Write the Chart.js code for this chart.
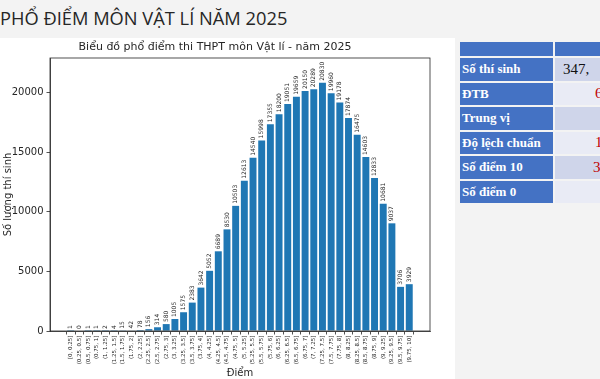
<!DOCTYPE html>
<html>
<head>
<meta charset="utf-8">
<script src="https://cdn.jsdelivr.net/npm/chart.js@4/dist/chart.umd.min.js"></script>
<style>
html,body{margin:0;padding:0;width:600px;height:379px;overflow:hidden;background:#f3f3f3;}
#slideTitle{position:absolute;left:0;top:5px;font-family:"Open Sans",sans-serif;font-size:18.3px;color:#262626;white-space:nowrap;}
#chartBox{position:absolute;left:0;top:38px;width:455px;height:341px;background:#ffffff;}
#stats{position:absolute;left:458px;top:40px;width:219px;border-collapse:separate;border-spacing:2px;font-family:"Liberation Serif",serif;font-weight:bold;table-layout:fixed;}
#stats td{padding:0;white-space:nowrap;overflow:hidden;}
#stats td.lab{background:#4472c4;color:#ffffff;font-size:13px;padding-left:2px;}
#stats td.val{font-size:15px;font-weight:normal;text-align:left;}
#stats tr.head td{height:14px;background:#4472c4;}
#stats tr.r td{height:22.5px;}
#stats tr.b1 td.val{background:#cfd5ea;}
#stats tr.b2 td.val{background:#e9ebf5;}
.red{color:#c00000;}
</style>
</head>
<body>
<div id="slideTitle">PHỔ ĐIỂM MÔN VẬT LÍ NĂM 2025</div>
<div id="chartBox"><canvas id="c" width="455" height="341"></canvas></div>
<table id="stats">
<colgroup><col style="width:93px"><col style="width:120px"></colgroup>
<tr class="head"><td class="lab"></td><td class="val"></td></tr>
<tr class="r b1"><td class="lab">Số thí sinh</td><td class="val" style="padding-left:8px;color:#111">347,</td></tr>
<tr class="r b2"><td class="lab">ĐTB</td><td class="val red" style="padding-left:40px">6</td></tr>
<tr class="r b1"><td class="lab">Trung vị</td><td class="val"></td></tr>
<tr class="r b2"><td class="lab">Độ lệch chuẩn</td><td class="val red" style="padding-left:40px">1</td></tr>
<tr class="r b1"><td class="lab">Số điểm 10</td><td class="val red" style="padding-left:38px">3</td></tr>
<tr class="r b2"><td class="lab">Số điểm 0</td><td class="val"></td></tr>
</table>
<script>
const binLabels = ["[0, 0.25]","(0.25, 0.5]","(0.5, 0.75]","(0.75, 1]","(1, 1.25]","(1.25, 1.5]","(1.5, 1.75]","(1.75, 2]",
"(2, 2.25]","(2.25, 2.5]","(2.5, 2.75]","(2.75, 3]","(3, 3.25]","(3.25, 3.5]","(3.5, 3.75]","(3.75, 4]",
"(4, 4.25]","(4.25, 4.5]","(4.5, 4.75]","(4.75, 5]","(5, 5.25]","(5.25, 5.5]","(5.5, 5.75]","(5.75, 6]",
"(6, 6.25]","(6.25, 6.5]","(6.5, 6.75]","(6.75, 7]","(7, 7.25]","(7.25, 7.5]","(7.5, 7.75]","(7.75, 8]",
"(8, 8.25]","(8.25, 8.5]","(8.5, 8.75]","(8.75, 9]","(9, 9.25]","(9.25, 9.5]","(9.5, 9.75]","(9.75, 10]"];
const counts = [1,0,1,1,2,4,15,42,78,156,314,580,1005,1575,2383,3642,5052,6689,8530,10503,
12613,14540,15998,17355,18200,19051,19659,20150,20289,20830,19960,19178,17874,16475,14603,12833,10681,9037,3706,3929];
const yTicks = [0,5000,10000,15000,20000];
const chartTitle = "Biểu đồ phổ điểm thi THPT môn Vật lí - năm 2025";
const xTitle = "Điểm";
const yTitle = "Số lượng thí sinh";

Chart.defaults.font.family = "'DejaVu Sans', sans-serif";
Chart.defaults.color = "#262626";

const yMax = Math.max(...counts) * 1.1;
const nBars = counts.length;
const xPad = 0.05 * (nBars - 1 + 0.8);

const frame = {
  id: 'frame',
  afterDraw(chart) {
    const a = chart.chartArea, ctx = chart.ctx;
    ctx.save();
    ctx.strokeStyle = '#262626';
    ctx.lineWidth = 0.8;
    ctx.strokeRect(a.left, a.top, a.right - a.left, a.bottom - a.top);
    ctx.restore();
  }
};
const barLabels = {
  id: 'barLabels',
  afterDatasetsDraw(chart) {
    const ctx = chart.ctx;
    const meta = chart.getDatasetMeta(0);
    ctx.save();
    ctx.font = "6px 'DejaVu Sans'";
    ctx.fillStyle = '#262626';
    ctx.textAlign = 'left';
    ctx.textBaseline = 'middle';
    meta.data.forEach((el, i) => {
      ctx.save();
      ctx.translate(el.x, el.y - 2);
      ctx.rotate(-Math.PI / 2);
      ctx.fillText(String(counts[i]), 0, 0);
      ctx.restore();
    });
    ctx.restore();
  }
};

new Chart(document.getElementById('c'), {
  type: 'bar',
  data: {
    datasets: [{
      data: counts.map((v, i) => ({x: i, y: v})),
      backgroundColor: '#1f77b4',
      borderWidth: 0,
      categoryPercentage: 1,
      barPercentage: 0.8
    }]
  },
  options: {
    responsive: false,
    animation: false,
    devicePixelRatio: 1,
    layout: {padding: {left: 0, right: 25, top: 0, bottom: 0}},
    plugins: {
      legend: {display: false},
      tooltip: {enabled: false},
      title: {display: true, text: chartTitle, font: {size: 11, weight: 'normal'}, color: '#262626', padding: {top: 3, bottom: 3.8}}
    },
    scales: {
      x: {
        type: 'linear',
        min: -0.4 - xPad,
        max: nBars - 1 + 0.4 + xPad,
        offset: false,
        grid: {display: true, drawOnChartArea: false, drawTicks: true, tickLength: 3.5, color: '#262626', lineWidth: 0.8},
        border: {display: true, color: '#262626', width: 0.8},
        ticks: {autoSkip: false, maxRotation: 90, minRotation: 90, font: {size: 5.5}, color: '#262626', padding: 1,
          callback: (v) => binLabels[v]},
        afterBuildTicks: (s) => { s.ticks = binLabels.map((_, i) => ({value: i})); },
        afterFit: (s) => { s.height = 48; },
        title: {display: true, text: xTitle, font: {size: 10}, color: '#262626', padding: {top: 0, bottom: 0}}
      },
      y: {
        min: 0,
        max: yMax,
        grid: {display: true, drawOnChartArea: false, drawTicks: true, tickLength: 3.5, color: '#262626', lineWidth: 0.8},
        border: {display: true, color: '#262626', width: 0.8},
        ticks: {font: {size: 10}, color: '#262626', padding: 3, callback: (v) => String(v)},
        afterBuildTicks: (s) => { s.ticks = yTicks.map(v => ({value: v})); },
        afterFit: (s) => { s.width = 50; },
        title: {display: true, text: yTitle, font: {size: 10}, color: '#262626', padding: {top: 2, bottom: 2}}
      }
    }
  },
  plugins: [frame, barLabels]
});
</script>
</body>
</html>
